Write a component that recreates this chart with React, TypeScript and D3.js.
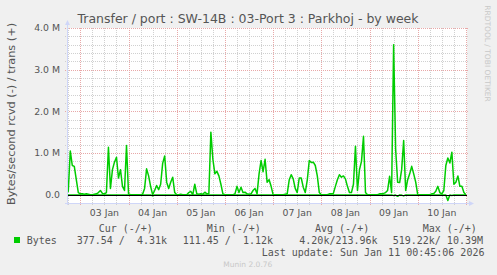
import React from "react";
import * as d3 from "d3";

// ---------- data (MB/s, hourly samples starting Jan 2 17:00 UTC) ----------
const seriesStart = Date.UTC(2026, 0, 2, 17, 0);

const transJan02 = [0.03, 0.08, 1.05, 0.7, 0.68, 0.36, 0.05];
const transJan03 = [0.02, 0.02, 0.01, 0.02, 0.01, 0.0, 0.0, 0.01, 0.02, 0.05, 0.1, 0.03, 0.02, 0.05, 1.14, 0.15, 0.6, 0.78, 0.9, 0.4, 0.6, 0.2, 0.1, 1.18];
const transJan04 = [0.02, 0.0, 0.0, 0.0, 0.0, 0.0, 0.0, 0.01, 0.15, 0.62, 0.45, 0.2, 0.0, 0.1, 0.22, 0.12, 0.25, 0.75, 0.93, 0.3, 0.15, 0.3, 0.42, 0.05];
const transJan05 = [0.0, 0.0, 0.01, 0.0, 0.0, 0.0, 0.05, 0.08, 0.0, 0.25, 0.02, 0.01, 0.02, 0.01, 0.06, 0.02, 0.02, 1.5, 0.85, 0.5, 0.56, 0.45, 0.25, 0.02];
const transJan06 = [0.0, 0.0, 0.0, 0.0, 0.0, 0.02, 0.2, 0.05, 0.18, 0.05, 0.06, 0.02, 0.01, 0.02, 0.1, 0.15, 0.02, 0.5, 0.82, 0.55, 0.85, 0.3, 0.36, 0.2];
const transJan07 = [0.0, 0.0, 0.0, 0.0, 0.0, 0.0, 0.01, 0.02, 0.35, 0.48, 0.38, 0.15, 0.05, 0.4, 0.4, 0.18, 0.05, 0.35, 0.82, 0.77, 0.78, 0.7, 0.45, 0.05];
const transJan08 = [0.0, 0.0, 0.0, 0.0, 0.02, 0.02, 0.03, 0.2, 0.36, 0.48, 0.42, 0.45, 0.38, 0.2, 0.05, 0.05, 0.25, 1.16, 0.1, 0.6, 0.8, 1.4, 0.05, 0.0];
const transJan09 = [0.0, 0.0, 0.0, 0.0, 0.0, 0.02, 0.02, 0.03, 0.05, 0.1, 0.44, 0.05, 3.6, 1.1, 0.3, 0.29, 0.6, 1.3, 0.1, 0.36, 0.5, 0.68, 0.5, 0.3];
const transJan10 = [0.0, 0.0, 0.0, 0.0, 0.0, 0.0, 0.0, 0.02, 0.03, 0.08, 0.2, 0.05, 0.02, 0.1, 0.7, 0.88, 0.76, 1.02, 0.25, 0.3, 0.45, 0.2, 0.2, 0.05];
const transJan11 = [0.0];

const rcvdJan02 = [0.005, 0.005, 0.01, 0.01, 0.005, 0.005, 0.005];
const rcvdJan03 = [0.005, 0.005, 0.005, 0.005, 0.005, 0.005, 0.005, 0.005, 0.005, 0.005, 0.005, 0.005, 0.005, 0.005, 0.01, 0.005, 0.01, 0.01, 0.01, 0.005, 0.005, 0.005, 0.005, 0.01];
const rcvdJan04 = [0.005, 0.005, 0.005, 0.005, 0.005, 0.005, 0.005, 0.005, 0.005, 0.01, 0.01, 0.005, 0.03, 0.005, 0.005, 0.005, 0.005, 0.01, 0.01, 0.005, 0.005, 0.005, 0.005, 0.005];
const rcvdJan05 = [0.005, 0.005, 0.005, 0.005, 0.005, 0.005, 0.005, 0.005, 0.005, 0.005, 0.005, 0.005, 0.005, 0.005, 0.005, 0.005, 0.005, 0.01, 0.01, 0.005, 0.005, 0.005, 0.005, 0.005];
const rcvdJan06 = [0.005, 0.005, 0.005, 0.005, 0.005, 0.005, 0.005, 0.005, 0.005, 0.005, 0.005, 0.005, 0.005, 0.005, 0.005, 0.005, 0.005, 0.01, 0.01, 0.005, 0.01, 0.005, 0.005, 0.005];
const rcvdJan07 = [0.005, 0.005, 0.005, 0.005, 0.005, 0.005, 0.005, 0.005, 0.005, 0.01, 0.005, 0.005, 0.005, 0.005, 0.005, 0.005, 0.005, 0.005, 0.01, 0.01, 0.01, 0.005, 0.005, 0.005];
const rcvdJan08 = [0.005, 0.005, 0.005, 0.005, 0.005, 0.005, 0.005, 0.005, 0.005, 0.01, 0.005, 0.005, 0.005, 0.005, 0.005, 0.005, 0.005, 0.01, 0.005, 0.01, 0.01, 0.01, 0.005, 0.005];
const rcvdJan09 = [0.005, 0.005, 0.005, 0.005, 0.005, 0.005, 0.005, 0.005, 0.005, 0.005, 0.01, 0.005, 0.02, 0.01, 0.04, 0.005, 0.01, 0.03, 0.005, 0.005, 0.01, 0.005, 0.005, 0.005];
const rcvdJan10 = [0.005, 0.005, 0.005, 0.005, 0.005, 0.005, 0.005, 0.005, 0.005, 0.005, 0.005, 0.005, 0.005, 0.005, 0.01, 0.14, 0.01, 0.02, 0.005, 0.005, 0.005, 0.005, 0.005, 0.005];
const rcvdJan11 = [0.005];

const trans = [
  ...transJan02, ...transJan03, ...transJan04, ...transJan05, ...transJan06,
  ...transJan07, ...transJan08, ...transJan09, ...transJan10, ...transJan11,
];
const rcvd = [
  ...rcvdJan02, ...rcvdJan03, ...rcvdJan04, ...rcvdJan05, ...rcvdJan06,
  ...rcvdJan07, ...rcvdJan08, ...rcvdJan09, ...rcvdJan10, ...rcvdJan11,
];

const yTickValues = [0, 1, 2, 3, 4];
const yTickLabels = ["0.0", "1.0 M", "2.0 M", "3.0 M", "4.0 M"];
const dayLabels = ["03 Jan", "04 Jan", "05 Jan", "06 Jan", "07 Jan", "08 Jan", "09 Jan", "10 Jan"];

const titleText = "Transfer / port : SW-14B : 03-Port 3 : Parkhoj - by week";
const yAxisTitle = "Bytes/second rcvd (-) / trans (+)";
const legendHeaders = ["Cur (-/+)", "Min (-/+)", "Avg (-/+)", "Max (-/+)"];
const legendSeries = "Bytes";
const legendValues = ["377.54 /  4.31k", "111.45 /  1.12k", "4.20k/213.96k", "519.22k/ 10.39M"];
const lastUpdate = "Last update: Sun Jan 11 00:45:06 2026";
const footer = "Munin 2.0.76";
const watermark = "RRDTOOL / TOBI OETIKER";

// ---------- layout ----------
const W = 497;
const H = 275;
const PL = 67;
const PR = 467;
const PT = 28;
const PB = 203;
const domainStart = Date.UTC(2026, 0, 2, 17, 22);
const domainEnd = domainStart + 8.2988 * 86400e3;

const LINE = "#00CC00";
const AXIS = "#CFD6F8";
const FONT = "#555555";
const SANS = "'DejaVu Sans', sans-serif";
const MONO = "'DejaVu Sans Mono', monospace";

const legendHeaderX = [98.7, 206.7, 315, 422.7];
const legendValueX = [76.7, 182.7, 299.3, 392.7];

export default function App() {
  const x = d3.scaleUtc().domain([new Date(domainStart), new Date(domainEnd)]).range([PL, PR]);
  const y = d3.scaleLinear().domain([-0.2, 4.0]).range([PB, PT]);

  const times = trans.map((_, i) => new Date(seriesStart + i * 3600e3));
  const transLine = d3.line<number>().x((_, i) => x(times[i])).y((d) => y(d));
  const rcvdLine = d3.line<number>().x((_, i) => x(times[i])).y((d) => y(-d));

  const sixHours = d3.utcHour.every(6)!.range(new Date(domainStart), new Date(domainEnd));
  const days = d3.utcDay.range(new Date(domainStart), new Date(domainEnd));
  const hGrid = d3.range(0, 21).map((k) => k * 0.2);

  return (
    <svg
      width={W}
      height={H}
      style={{ position: "fixed", left: 0, top: 0, display: "block" }}
      xmlns="http://www.w3.org/2000/svg"
    >
      <defs>
        <clipPath id="plotClip">
          <rect x={PL} y={PT - 2} width={PR - PL} height={PB - PT + 2} />
        </clipPath>
      </defs>
      <rect x={0} y={0} width={W} height={H} fill="#F0F0F0" />
      <rect x={PL} y={PT} width={PR - PL} height={PB - PT} fill="#FFFFFF" />

      {/* minor grid */}
      {hGrid.map((v, k) =>
        k % 5 === 0 ? null : (
          <line key={"hm" + k} x1={PL - 2} x2={PR + 1} y1={Math.round(y(v)) + 0.5} y2={Math.round(y(v)) + 0.5}
            stroke="#D0D0D0" strokeWidth={1} strokeDasharray="1,1" />
        )
      )}
      {sixHours.map((t, k) =>
        t.getUTCHours() === 0 ? null : (
          <line key={"vm" + k} x1={Math.round(x(t)) + 0.5} x2={Math.round(x(t)) + 0.5} y1={PT} y2={PB + 2}
            stroke="#D0D0D0" strokeWidth={1} strokeDasharray="1,1" />
        )
      )}
      {/* major grid */}
      {yTickValues.map((v) =>
        v === 0 ? null : (
          <line key={"hM" + v} x1={PL - 2} x2={PR + 1} y1={Math.round(y(v)) + 0.5} y2={Math.round(y(v)) + 0.5}
            stroke="#E8A8A8" strokeWidth={1} strokeDasharray="1,1" />
        )
      )}
      {days.map((t, k) => (
        <line key={"vM" + k} x1={Math.round(x(t)) + 0.5} x2={Math.round(x(t)) + 0.5} y1={PT} y2={PB + 2}
          stroke="#E8A8A8" strokeWidth={1} strokeDasharray="1,1" />
      ))}

      {/* data */}
      <g clipPath="url(#plotClip)">
        <path d={rcvdLine(rcvd) || ""} fill="none" stroke={LINE} strokeWidth={1.5} strokeLinejoin="round" />
        <path d={transLine(trans) || ""} fill="none" stroke={LINE} strokeWidth={1.5} strokeLinejoin="round" />
      </g>

      {/* zero line */}
      <line x1={PL} x2={PR} y1={Math.round(y(0)) + 0.5} y2={Math.round(y(0)) + 0.5} stroke="#000000" strokeWidth={1} />

      {/* axes */}
      <line x1={PL + 0.5} x2={PL + 0.5} y1={PB + 2} y2={PT - 5} stroke={AXIS} strokeWidth={1} />
      <path d={`M${PL - 2},${PT - 3} L${PL + 3},${PT - 3} L${PL + 0.5},${PT - 8} Z`} fill={AXIS} />
      <line x1={PL - 2} x2={PR + 3} y1={PB + 0.5} y2={PB + 0.5} stroke={AXIS} strokeWidth={1} />
      <path d={`M${PR + 2},${PB - 2} L${PR + 2},${PB + 3} L${PR + 7},${PB + 0.5} Z`} fill={AXIS} />

      {/* y labels */}
      {yTickValues.map((v, i) => (
        <text key={"yl" + v} x={60} y={y(v)} dy="0.34em" textAnchor="end" fontFamily={SANS} fontSize={9.33} fill={FONT}>
          {yTickLabels[i]}
        </text>
      ))}
      {/* x labels */}
      {days.map((t, k) =>
        k < dayLabels.length ? (
          <text key={"xl" + k} x={x(new Date(t.getTime() + 12 * 3600e3))} y={216} textAnchor="middle"
            fontFamily={SANS} fontSize={9.33} fill={FONT}>
            {dayLabels[k]}
          </text>
        ) : null
      )}

      {/* titles */}
      <text x={248} y={23} textAnchor="middle" fontFamily={SANS} fontSize={12.5} fill={FONT}>{titleText}</text>
      <text transform="translate(11.5,114) rotate(-90)" textAnchor="middle" dominantBaseline="central"
        fontFamily={SANS} fontSize={11.3} fill={FONT}>{yAxisTitle}</text>
      <text transform="translate(487.5,53.5) rotate(90)" textAnchor="middle" dominantBaseline="central"
        fontFamily={SANS} fontSize={7.5} fill="#C8C8C8">{watermark}</text>

      {/* legend */}
      {legendHeaders.map((s, i) => (
        <text key={"lh" + i} x={legendHeaderX[i]} y={231.5} fontFamily={MONO} fontSize={10} fill={FONT} style={{ whiteSpace: "pre" }}>{s}</text>
      ))}
      <rect x={14} y={237} width={6} height={6} fill={LINE} />
      <text x={26.7} y={243.5} fontFamily={MONO} fontSize={10} fill={FONT}>{legendSeries}</text>
      {legendValues.map((s, i) => (
        <text key={"lv" + i} x={legendValueX[i]} y={243.5} fontFamily={MONO} fontSize={10} fill={FONT} style={{ whiteSpace: "pre" }}>{s}</text>
      ))}
      <text x={261.7} y={255.5} fontFamily={MONO} fontSize={10} fill={FONT}>{lastUpdate}</text>
      <text x={247.8} y={267} textAnchor="middle" fontFamily={SANS} fontSize={7.5} fill="#C8C8C8">{footer}</text>
    </svg>
  );
}
